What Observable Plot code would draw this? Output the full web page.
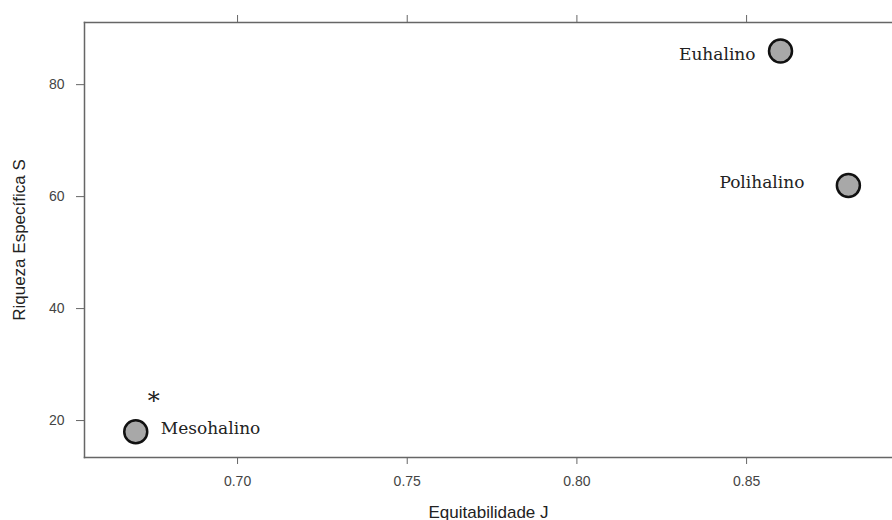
<!DOCTYPE html>
<html>
<head>
<meta charset="utf-8">
<script src="https://cdn.jsdelivr.net/npm/d3@7"></script>
<script src="https://cdn.jsdelivr.net/npm/@observablehq/plot@0.6"></script>
<style>
  html, body { margin: 0; padding: 0; background: #fff; }
</style>
</head>
<body>
<div id="chart"></div>
<script>
const zones = ["Mesohalino", "Polihalino", "Euhalino"];
const equitability = [0.67, 0.88, 0.86];
const richness = [18, 62, 86];
const xTicks = [0.70, 0.75, 0.80, 0.85];
const yTicks = [20, 40, 60, 80];

const data = zones.map((z, i) => ({zone: z, J: equitability[i], S: richness[i]}));
const serif = "DejaVu Serif, serif";
const frameColor = "#666";

const chart = Plot.plot({
  width: 892,
  height: 520,
  marginLeft: 84,
  marginRight: 0,
  marginTop: 22,
  marginBottom: 63,
  style: {fontFamily: "Liberation Sans, Arial, sans-serif", background: "#fff"},
  x: {domain: [0.6549, 0.893]},
  y: {domain: [13.4, 91.1]},
  marks: [
    Plot.frame({anchor: "left", stroke: frameColor, strokeWidth: 1.5}),
    Plot.frame({anchor: "top", stroke: frameColor, strokeWidth: 1.5}),
    Plot.frame({anchor: "bottom", stroke: frameColor, strokeWidth: 1.5}),
    Plot.axisX({anchor: "bottom", ticks: xTicks, tickFormat: ".2f", tickSize: 7, tickPadding: 12,
      fontSize: 14, fill: "#444", stroke: frameColor, label: null}),
    Plot.axisX({anchor: "bottom", ticks: [], label: "Equitabilidade J", labelAnchor: "center", labelArrow: false,
      labelOffset: 60, fontSize: 17, fill: "#222"}),
    Plot.axisX({anchor: "top", ticks: xTicks, tickFormat: () => "", tickSize: 8, stroke: frameColor, label: null}),
    Plot.axisY({anchor: "left", ticks: yTicks, tickSize: 8, tickPadding: 12,
      fontSize: 14, fill: "#444", stroke: frameColor, label: null}),
    Plot.axisY({anchor: "left", ticks: [], label: "Riqueza Específica S", labelAnchor: "center", labelArrow: false,
      labelOffset: 72, fontSize: 17, fill: "#222"}),
    Plot.dot(data, {x: "J", y: "S", r: 11.5, fill: "#a8a8a8", stroke: "#111", strokeWidth: 2.5}),
    Plot.text(data.filter(d => d.zone === "Euhalino"), {x: "J", y: "S", text: "zone", textAnchor: "end", dx: -25, dy: 3, fontFamily: serif, fontSize: 17, fill: "#222"}),
    Plot.text(data.filter(d => d.zone === "Polihalino"), {x: "J", y: "S", text: "zone", textAnchor: "end", dx: -44, dy: -3, fontFamily: serif, fontSize: 17, fill: "#222"}),
    Plot.text(data.filter(d => d.zone === "Mesohalino"), {x: "J", y: "S", text: "zone", textAnchor: "start", dx: 25, dy: -3, fontFamily: serif, fontSize: 17, fill: "#222"}),
    Plot.text(data.filter(d => d.zone === "Mesohalino"), {x: "J", y: "S", text: () => "*", dx: 18, dy: -30, fontFamily: serif, fontSize: 24, fill: "#222"})
  ]
});
document.getElementById("chart").appendChild(chart);
</script>
</body>
</html>
